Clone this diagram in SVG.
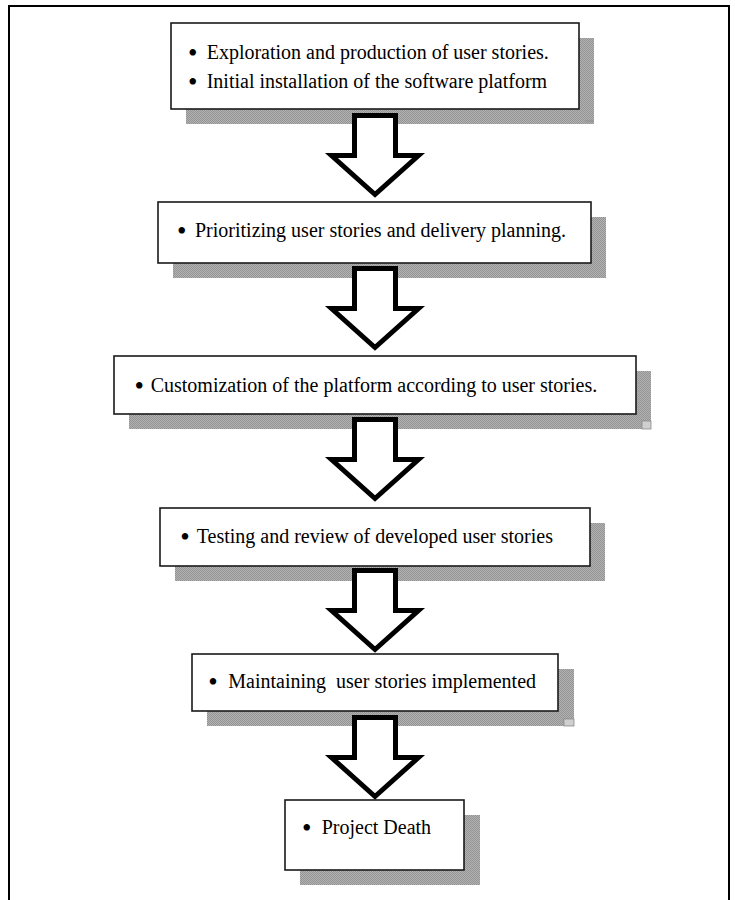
<svg xmlns="http://www.w3.org/2000/svg" width="735" height="900" viewBox="0 0 735 900">
  <defs>
    <pattern id="dots" patternUnits="userSpaceOnUse" width="2" height="2">
      <rect width="2" height="2" fill="#b2b2b2"/>
      <rect width="1" height="1" fill="#949494"/>
      <rect x="1" y="1" width="1" height="1" fill="#949494"/>
    </pattern>
    <style>
      .shadow { fill: url(#dots); stroke: none; }
      .box { fill: #ffffff; stroke: #1a1a1a; stroke-width: 1.6; }
      .lbl { font-family: "Liberation Serif", "Times New Roman", serif; font-size: 20px; fill: #000; }
      .bul { font-size: 27px; }
      .arrow { fill: #ffffff; stroke: #000; stroke-width: 5; stroke-linejoin: miter; stroke-miterlimit: 10; }
      .frame { fill: none; stroke: #000; stroke-width: 2; }
      .tick { fill: #cfcfcf; stroke: #8a8a8a; stroke-width: 0.8; }
    </style>
  </defs>

  <rect width="735" height="900" fill="#ffffff"/>
  <path class="frame" d="M9,900 V6 H729 V900"/>

  <g id="node-1">
    <rect class="shadow" x="186" y="38" width="408" height="86"/>
    <line x1="585" y1="121" x2="594" y2="121" stroke="#8a8a8a" stroke-width="0.8"/>
    <rect class="box" x="171" y="23" width="408" height="86"/>
    <text class="lbl"><tspan class="bul" x="188" y="61.5">•</tspan><tspan x="206.7" y="59">Exploration and production of user stories.</tspan></text>
    <text class="lbl"><tspan class="bul" x="188" y="90.5">•</tspan><tspan x="206.7" y="88">Initial installation of the software platform</tspan></text>
  </g>

  <g id="node-2">
    <rect class="shadow" x="173" y="217" width="433" height="61"/>
    <rect class="box" x="158" y="202" width="433" height="61"/>
    <text class="lbl"><tspan class="bul" x="177" y="239.5">•</tspan><tspan x="195" y="237">Prioritizing user stories and delivery planning.</tspan></text>
  </g>

  <g id="node-3">
    <rect class="shadow" x="129" y="371" width="522" height="58"/>
    <rect class="tick" x="642" y="421" width="9" height="8"/>
    <rect class="box" x="114" y="356" width="522" height="58"/>
    <text class="lbl"><tspan class="bul" x="134.6" y="394.5">•</tspan><tspan x="150.7" y="392">Customization of the platform according to user stories.</tspan></text>
  </g>

  <g id="node-4">
    <rect class="shadow" x="175" y="523" width="430" height="58"/>
    <rect class="box" x="160" y="508" width="430" height="58"/>
    <text class="lbl"><tspan class="bul" x="180.3" y="545.5">•</tspan><tspan x="196.7" y="543">Testing and review of developed user stories</tspan></text>
  </g>

  <g id="node-5">
    <rect class="shadow" x="207" y="669" width="367" height="57"/>
    <rect class="tick" x="564" y="719" width="10" height="7"/>
    <rect class="box" x="192" y="654" width="366" height="57"/>
    <text class="lbl" style="white-space:pre" xml:space="preserve"><tspan class="bul" x="208.3" y="690.5">•</tspan><tspan x="228.3" y="688">Maintaining  user stories implemented</tspan></text>
  </g>

  <g id="node-6">
    <rect class="shadow" x="300" y="815" width="180" height="70"/>
    <rect class="box" x="285" y="800" width="179" height="70"/>
    <text class="lbl"><tspan class="bul" x="302" y="836.5">•</tspan><tspan x="321.7" y="834">Project Death</tspan></text>
  </g>

  <g id="connectors">
    <path class="arrow" d="M354.5,115.5 H395.5 V155.5 H418.5 L375,194.5 L331.5,155.5 H354.5 Z"/>
    <path class="arrow" d="M354.5,268.5 H395.5 V308.5 H418.5 L375,347.5 L331.5,308.5 H354.5 Z"/>
    <path class="arrow" d="M354.5,419.5 H395.5 V459.5 H418.5 L375,498.5 L331.5,459.5 H354.5 Z"/>
    <path class="arrow" d="M354.5,570.5 H395.5 V610.5 H418.5 L375,649.5 L331.5,610.5 H354.5 Z"/>
    <path class="arrow" d="M354.5,717.5 H395.5 V757.5 H418.5 L375,796.5 L331.5,757.5 H354.5 Z"/>
  </g>
</svg>
